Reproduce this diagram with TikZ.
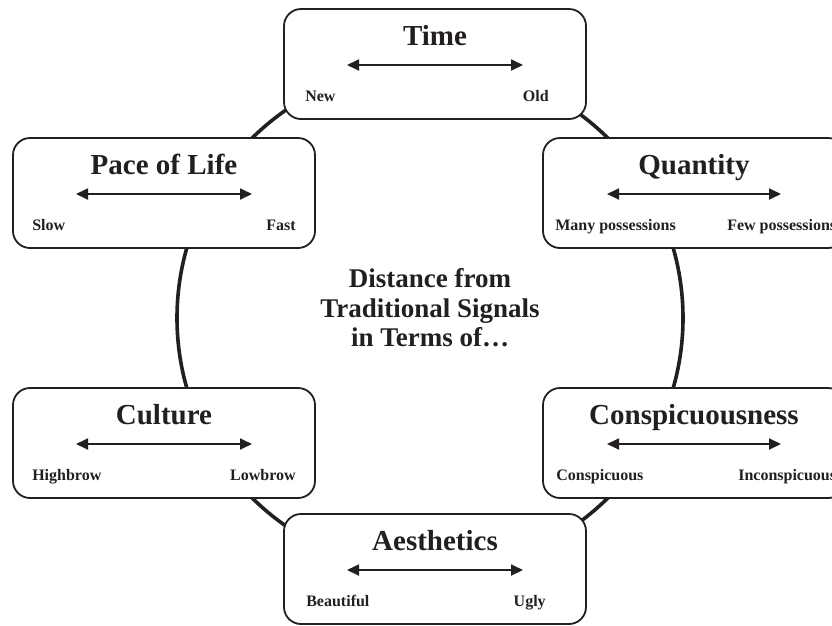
\documentclass[tikz,border=0pt]{standalone}
\usepackage{fontspec}
\setmainfont{Liberation Serif}
\usetikzlibrary{arrows.meta, positioning, calc}
\definecolor{Ink}{RGB}{35, 31, 32}

\begin{document}
\begin{tikzpicture}[
            x=1pt, y=-1pt,
            panel/.style={rectangle, rounded corners=17pt, draw=Ink, line width=1.8pt, fill=white,
                          minimum width=302pt, minimum height=110pt, inner sep=0pt},
            heading/.style={anchor=base, inner sep=0pt, text=Ink, font=\fontsize{29}{31}\selectfont\bfseries},
            pole/.style={inner sep=0pt, text=Ink, font=\fontsize{16}{18}\selectfont\bfseries},
            axis/.style={{Triangle[length=12pt, width=11pt]}-{Triangle[length=12pt, width=11pt]}, line width=1.8pt, Ink},
            ring/.style={draw=Ink, line width=3.6pt}
        ]
            \clip (0,0) rectangle (832,625);
            \draw[ring] (430,318) circle[radius=253];

            % centre text
            \node[inner sep=0pt, align=center, text=Ink,
                  font=\fontsize{27}{29.5}\selectfont\bfseries] (centre) at (430,308)
                 {Distance from\\Traditional Signals\\in Terms of…};

            % Time
            \node[panel] (time) at (435,64) {};
            \node[heading] (time-h) at ($(time.center)+(0,-19)$) {Time};
            \node[pole, anchor=base west] (time-l) at ($(time.west)+(22,37)$) {New};
            \node[pole, anchor=base east] (time-r) at ($(time.east)+(-38,37)$) {Old};
            \coordinate (time-a) at ($(time.center)+(-88,1)$);
            \coordinate (time-b) at ($(time.center)+(88,1)$);
            \draw[axis] (time-a) -- (time-b);

            % Pace of Life
            \node[panel] (pace) at (164,193) {};
            \node[heading] (pace-h) at ($(pace.center)+(0,-19)$) {Pace of Life};
            \node[pole, anchor=base west] (pace-l) at ($(pace.west)+(20,37)$) {Slow};
            \node[pole, anchor=base east] (pace-r) at ($(pace.east)+(-20,37)$) {Fast};
            \coordinate (pace-a) at ($(pace.center)+(-88,1)$);
            \coordinate (pace-b) at ($(pace.center)+(88,1)$);
            \draw[axis] (pace-a) -- (pace-b);

            % Quantity
            \node[panel] (quantity) at (694,193) {};
            \node[heading] (quantity-h) at ($(quantity.center)+(0,-19)$) {Quantity};
            \node[pole, anchor=base west] (quantity-l) at ($(quantity.west)+(13,37)$) {Many possessions};
            \node[pole, anchor=base west] (quantity-r) at ($(quantity.west)+(185,37)$) {Few possessions};
            \coordinate (quantity-a) at ($(quantity.center)+(-87,1)$);
            \coordinate (quantity-b) at ($(quantity.center)+(87,1)$);
            \draw[axis] (quantity-a) -- (quantity-b);

            % Culture
            \node[panel] (culture) at (164,443) {};
            \node[heading] (culture-h) at ($(culture.center)+(0,-19)$) {Culture};
            \node[pole, anchor=base west] (culture-l) at ($(culture.west)+(20,37)$) {Highbrow};
            \node[pole, anchor=base east] (culture-r) at ($(culture.east)+(-20,37)$) {Lowbrow};
            \coordinate (culture-a) at ($(culture.center)+(-88,1)$);
            \coordinate (culture-b) at ($(culture.center)+(88,1)$);
            \draw[axis] (culture-a) -- (culture-b);

            % Conspicuousness
            \node[panel] (consp) at (694,443) {};
            \node[heading] (consp-h) at ($(consp.center)+(0,-19)$) {Conspicuousness};
            \node[pole, anchor=base west] (consp-l) at ($(consp.west)+(14,37)$) {Conspicuous};
            \node[pole, anchor=base west] (consp-r) at ($(consp.west)+(196,37)$) {Inconspicuous};
            \coordinate (consp-a) at ($(consp.center)+(-87,1)$);
            \coordinate (consp-b) at ($(consp.center)+(87,1)$);
            \draw[axis] (consp-a) -- (consp-b);

            % Aesthetics
            \node[panel] (aesth) at (435,569) {};
            \node[heading] (aesth-h) at ($(aesth.center)+(0,-19)$) {Aesthetics};
            \node[pole, anchor=base west] (aesth-l) at ($(aesth.west)+(23,37)$) {Beautiful};
            \node[pole, anchor=base east] (aesth-r) at ($(aesth.east)+(-41,37)$) {Ugly};
            \coordinate (aesth-a) at ($(aesth.center)+(-88,1)$);
            \coordinate (aesth-b) at ($(aesth.center)+(88,1)$);
            \draw[axis] (aesth-a) -- (aesth-b);
        \end{tikzpicture}
\end{document}
